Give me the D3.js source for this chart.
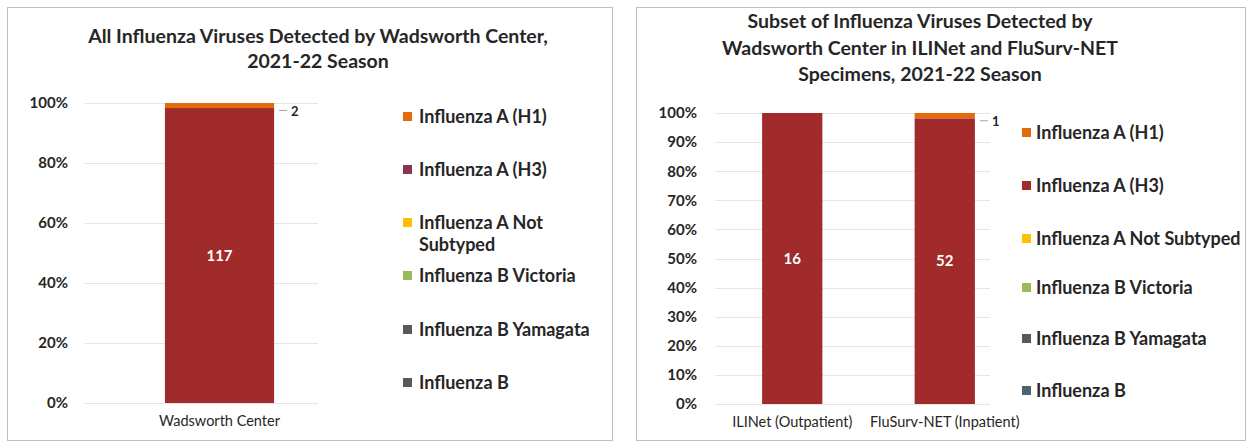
<!DOCTYPE html>
<html><head><meta charset="utf-8">
<script src="https://cdn.jsdelivr.net/npm/d3@7"></script>
<style>
html,body{margin:0;padding:0;background:#fff;}
svg{display:block;font-family:Lato,"Open Sans",sans-serif;}
</style></head>
<body><svg id="c" width="1252" height="448"></svg>
<script>
// ---- data ----
const seriesNames = ["Influenza A (H1)","Influenza A (H3)","Influenza A Not Subtyped","Influenza B Victoria","Influenza B Yamagata","Influenza B"];
const leftCategories = ["Wadsworth Center"];
const leftH1 = [2];
const leftH3 = [117];
const leftNotSubtyped = [0];
const leftVictoria = [0];
const leftYamagata = [0];
const leftB = [0];
const rightCategories = ["ILINet (Outpatient)","FluSurv-NET (Inpatient)"];
const rightH1 = [0,1];
const rightH3 = [16,52];
const rightNotSubtyped = [0,0];
const rightVictoria = [0,0];
const rightYamagata = [0,0];
const rightB = [0,0];
const leftTicks = [0,0.2,0.4,0.6,0.8,1.0];
const rightTicks = [0,0.1,0.2,0.3,0.4,0.5,0.6,0.7,0.8,0.9,1.0];
const leftTitle = ["All Influenza Viruses Detected by Wadsworth Center,","2021-22 Season"];
const rightTitle = ["Subset of Influenza Viruses Detected by","Wadsworth Center in ILINet and FluSurv-NET","Specimens, 2021-22 Season"];
const leftLegendLabels = [["Influenza A (H1)"],["Influenza A (H3)"],["Influenza A Not","Subtyped"],["Influenza B Victoria"],["Influenza B Yamagata"],["Influenza B"]];
const rightLegendLabels = [["Influenza A (H1)"],["Influenza A (H3)"],["Influenza A Not Subtyped"],["Influenza B Victoria"],["Influenza B Yamagata"],["Influenza B"]];

const barColors = ["#e36c0a","#a12b2b","#ffc000","#9bbb59","#595959","#4f6272"];
const leftLegendColors = ["#e36c0a","#8a3550","#ffc000","#9bbb59","#595959","#595959"];
const rightLegendColors = ["#e36c0a","#a12b2b","#ffc000","#9bbb59","#595959","#4f6272"];

const svg = d3.select("#c");

function buildRows(cats, arrs){
  return cats.map((c,i)=>{
    const o={cat:c};
    seriesNames.forEach((s,j)=>o[s]=arrs[j][i]);
    o.total = d3.sum(arrs, a=>a[i]);
    return o;
  });
}

function drawPanel(cfg){
  const g = svg.append("g");
  g.append("rect").attr("x",cfg.box[0]+0.5).attr("y",cfg.box[1]+0.5)
    .attr("width",cfg.box[2]).attr("height",cfg.box[3])
    .attr("fill","#fff").attr("stroke","#bfbfbf").attr("stroke-width",1);
  g.append("text").attr("text-anchor","middle").attr("font-weight","bold")
    .attr("font-size",cfg.titleSize).attr("fill","#262626")
    .selectAll("tspan").data(cfg.title).join("tspan")
    .attr("x",cfg.titleX).attr("y",(d,i)=>cfg.titleY+i*cfg.titleGap).text(d=>d);

  const rows = buildRows(cfg.cats, cfg.arrs);
  const stack = d3.stack().keys(seriesNames).order(d3.stackOrderReverse)
    .value((d,k)=> d.total ? d[k]/d.total : 0);
  const layers = stack(rows);

  const x = d3.scaleBand().domain(cfg.cats).range(cfg.barRange).paddingInner(cfg.padIn).paddingOuter(cfg.padOut);
  const y = d3.scaleLinear().domain([0,1]).range([cfg.plotY0,cfg.plotY1]);

  g.append("g").selectAll("line").data(cfg.ticks).join("line")
    .attr("x1",cfg.gridX0).attr("x2",cfg.gridX1)
    .attr("y1",d=>Math.round(y(d))+0.5).attr("y2",d=>Math.round(y(d))+0.5)
    .attr("stroke","#e6e6e6").attr("stroke-width",1);

  const yAxis = g.append("g").attr("transform",`translate(${cfg.gridX0},0)`)
    .call(d3.axisLeft(y).tickValues(cfg.ticks).tickFormat(d3.format(".0%")).tickSize(0).tickPadding(cfg.yPad));
  yAxis.select(".domain").remove();
  yAxis.selectAll("text").attr("font-size",15).attr("font-weight","bold").attr("fill","#262626")
    .attr("font-family","Lato,'Open Sans',sans-serif");

  const xAxis = g.append("g").attr("transform",`translate(0,${cfg.plotY0})`)
    .call(d3.axisBottom(x).tickSize(0).tickPadding(cfg.xPad));
  xAxis.select(".domain").remove();
  xAxis.selectAll("text").attr("font-size",14.5).attr("fill","#262626").attr("font-weight","normal")
    .attr("font-family","Lato,'Open Sans',sans-serif");

  layers.forEach((layer,li)=>{
    g.append("g").selectAll("rect").data(layer).join("rect")
      .attr("x",d=>x(d.data.cat)).attr("width",x.bandwidth())
      .attr("y",d=>y(d[1])).attr("height",d=>Math.max(0,y(d[0])-y(d[1])))
      .attr("fill",barColors[li]);
  });
  layers.forEach((layer,li)=>{
    layer.forEach(d=>{
      const v = d.data[seriesNames[li]];
      if(!v) return;
      const h = y(d[0])-y(d[1]);
      if(h>20){
        g.append("text").attr("x",x(d.data.cat)+x.bandwidth()/2).attr("y",(y(d[0])+y(d[1]))/2+5)
          .attr("text-anchor","middle").attr("font-size",15).attr("font-weight","bold")
          .attr("fill","#fff").text(v);
      } else {
        const xe = x(d.data.cat)+x.bandwidth();
        const ym = (y(d[0])+y(d[1]))/2;
        g.append("line").attr("x1",xe+5).attr("x2",xe+13).attr("y1",ym+5).attr("y2",ym+5)
          .attr("stroke","#a6a6a6");
        g.append("text").attr("x",xe+17).attr("y",ym+10).attr("font-size",13).attr("font-weight","bold")
          .attr("fill","#262626").text(v);
      }
    });
  });

  const lg = g.append("g");
  cfg.legendLabels.forEach((lab,i)=>{
    const yy = cfg.legendY[i];
    lg.append("rect").attr("x",cfg.legendX).attr("y",yy-11).attr("width",9).attr("height",9)
      .attr("fill",cfg.legendColors[i]);
    const t = lg.append("text").attr("font-size",18).attr("font-weight","bold").attr("fill","#262626");
    lab.forEach((l,k)=>t.append("tspan").attr("x",cfg.legendX+cfg.legendGap).attr("y",yy+k*22).text(l));
  });
}

drawPanel({
  box:[7,7,605,433],
  title:leftTitle, titleX:318, titleY:43, titleGap:25, titleSize:19.5,
  cats:leftCategories, arrs:[leftH1,leftH3,leftNotSubtyped,leftVictoria,leftYamagata,leftB],
  ticks:leftTicks,
  gridX0:85, gridX1:318, barRange:[124,315], plotY0:403, plotY1:103, padIn:0.2, padOut:0.3,
  yPad:17, xPad:13,
  legendX:403, legendGap:16, legendY:[123,176,229,282,336,389], legendLabels:leftLegendLabels, legendColors:leftLegendColors
});

drawPanel({
  box:[636,7,609,433],
  title:rightTitle, titleX:920, titleY:28, titleGap:26.5, titleSize:19.5,
  cats:rightCategories, arrs:[rightH1,rightH3,rightNotSubtyped,rightVictoria,rightYamagata,rightB],
  ticks:rightTicks,
  gridX0:715, gridX1:990, barRange:[731.6,1005.4], plotY0:404, plotY1:113, padIn:0.605, padOut:0.2,
  yPad:18, xPad:13,
  legendX:1022, legendGap:14, legendY:[139,192,245,294,345,397], legendLabels:rightLegendLabels, legendColors:rightLegendColors
});
</script></body></html>
